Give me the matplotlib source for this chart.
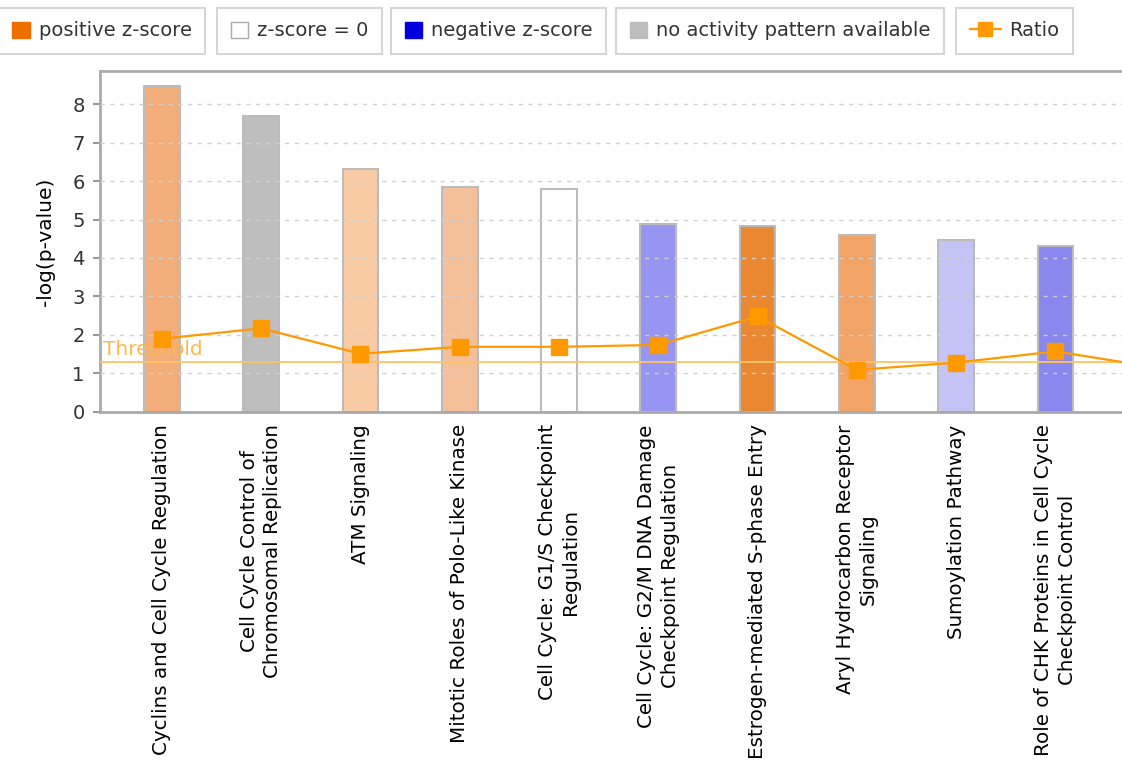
import numpy as np
import matplotlib
matplotlib.use('Agg')
from matplotlib import pyplot as plt
from matplotlib.patches import Patch
from matplotlib.lines import Line2D

pathways = [
    'Cyclins and Cell Cycle Regulation',
    'Cell Cycle Control of\nChromosomal Replication',
    'ATM Signaling',
    'Mitotic Roles of Polo-Like Kinase',
    'Cell Cycle: G1/S Checkpoint\nRegulation',
    'Cell Cycle: G2/M DNA Damage\nCheckpoint Regulation',
    'Estrogen-mediated S-phase Entry',
    'Aryl Hydrocarbon Receptor\nSignaling',
    'Sumoylation Pathway',
    'Role of CHK Proteins in Cell Cycle\nCheckpoint Control',
]
neglog_p = [8.47, 7.70, 6.32, 5.84, 5.79, 4.88, 4.82, 4.61, 4.48, 4.31]
# ratio series runs one pathway past the visible edge
ratio = [1.90, 2.17, 1.51, 1.69, 1.69, 1.74, 2.48, 1.09, 1.28, 1.57, 1.16]
threshold = 1.3

bar_colors = ['#F2AE7A', '#BEBEBE', '#F8CBA5', '#F4C09A', '#FFFFFF',
              '#9696F2', '#EA8731', '#F2A466', '#C3C3F5', '#8888EE']

plt.rcParams['font.family'] = ['DejaVu Sans']
txt = '#333333'

fig = plt.figure(figsize=(11.22, 7.77), dpi=100)
ax = fig.add_axes([0.089, 0.470, 0.911, 0.4385])

x = np.arange(len(pathways))
ax.bar(x, neglog_p, width=0.36, color=bar_colors, edgecolor='#BBBBBB',
       linewidth=1.5, zorder=2)

for v in range(1, 9):
    ax.axhline(v, color='#D0D0D0', linestyle=(0, (3, 4)), linewidth=1.0, zorder=3)

ax.axhline(threshold, color='#FFC266', linewidth=1.3, zorder=4)
ax.text(0.003, threshold + 0.07, 'Threshold', transform=ax.get_yaxis_transform(),
        color='#FFB84D', fontsize=14.5, va='bottom', ha='left', zorder=4)

ax.plot(np.arange(len(ratio)), ratio, color='#FF9900', linewidth=1.6,
        marker='s', markersize=11, markeredgecolor='#FF9900', zorder=5)

ax.set_xlim(-0.625, 9.67)
ax.set_ylim(0, 8.86)
ax.set_yticks(range(0, 9))
ax.set_xticks(x)
ax.set_xticklabels(pathways, rotation=90, ha='center', va='top',
                   multialignment='center', fontsize=14.3, color='black',
                   linespacing=1.3)
ax.tick_params(axis='x', length=0, pad=9)
ax.tick_params(axis='y', length=5, width=1.5, color='#999999', labelsize=14,
               labelcolor=txt, pad=6)
ax.set_ylabel('-log(p-value)', fontsize=14.5, color='black', labelpad=12)

for s in ['left', 'bottom', 'top']:
    ax.spines[s].set_color('#AAAAAA')
    ax.spines[s].set_linewidth(2)
ax.spines['right'].set_visible(False)

# legend entries in separate boxes along the top
entries = [
    (Patch(facecolor='#EE6F00', edgecolor='#EE6F00'), 'positive z-score', -0.001, 0.9),
    (Patch(facecolor='white', edgecolor='#AAAAAA'), 'z-score = 0', 0.1934, 0.9),
    (Patch(facecolor='#0000DD', edgecolor='#0000DD'), 'negative z-score', 0.3485, 0.9),
    (Patch(facecolor='#BDBDBD', edgecolor='#BDBDBD'), 'no activity pattern available', 0.549, 0.9),
    (Line2D([], [], color='#FF9900', marker='s', markersize=10, linewidth=1.6),
     'Ratio', 0.852, 1.6),
]
for h, lab, x0, hl in entries:
    lg = fig.legend(handles=[h], labels=[lab], loc='upper left',
                    bbox_to_anchor=(x0, 0.990), frameon=True, fancybox=False,
                    fontsize=14, handlelength=hl, handleheight=0.9,
                    handletextpad=0.45, borderpad=0.7, borderaxespad=0)
    lg.get_frame().set_edgecolor('#CCCCCC')
    lg.get_frame().set_linewidth(1.5)
    for t in lg.get_texts():
        t.set_color(txt)

fig.savefig('out.png', dpi=100)
